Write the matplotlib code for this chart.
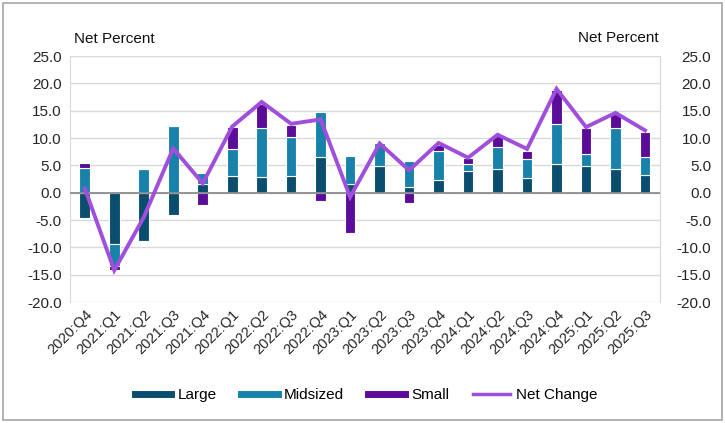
import numpy as np
import matplotlib
matplotlib.use("Agg")
import matplotlib.pyplot as plt
from matplotlib.lines import Line2D
from matplotlib.patches import Rectangle

plt.rcParams["font.family"] = ["Liberation Sans", "DejaVu Sans"]

# ---- data ----
quarters = ["2020:Q4", "2021:Q1", "2021:Q2", "2021:Q3", "2021:Q4",
            "2022:Q1", "2022:Q2", "2022:Q3", "2022:Q4", "2023:Q1",
            "2023:Q2", "2023:Q3", "2023:Q4", "2024:Q1", "2024:Q2",
            "2024:Q3", "2024:Q4", "2025:Q1", "2025:Q2", "2025:Q3"]
large    = [-4.6, -9.4, -8.8, -4.1, 1.5, 3.0, 2.8, 3.0, 6.5, 1.5,
            4.9, 1.1, 2.4, 4.0, 4.3, 2.7, 5.2, 4.8, 4.3, 3.3]
midsized = [4.6, -4.1, 4.3, 12.2, 2.1, 4.9, 9.1, 7.1, 8.2, 5.2,
            4.1, 4.7, 5.2, 1.3, 4.0, 3.4, 7.3, 2.3, 7.6, 3.3]
small    = [0.9, -0.6, 0.0, 0.0, -2.2, 4.1, 4.4, 2.3, -1.5, -7.4,
            0.0, -1.8, 1.2, 1.1, 2.1, 1.6, 6.2, 4.7, 2.5, 4.5]
net      = [0.8, -14.2, -4.5, 8.1, 1.7, 12.1, 16.6, 12.6, 13.4, -0.8,
            9.0, 4.1, 9.1, 6.4, 10.6, 8.0, 19.0, 12.0, 14.6, 11.4]

c_large, c_mid, c_small, c_net = "#0b4d6e", "#1882ab", "#5b0c98", "#a04fdc"

fig = plt.figure(figsize=(7.25, 4.23), dpi=100)
ax = fig.add_axes([0.0966, 0.286, 0.8134, 0.5816])
x = np.arange(len(quarters))

# stack Excel-style: positives up from 0, negatives down from 0
pos_b = np.zeros(len(x)); neg_b = np.zeros(len(x))
for vals, col in [(large, c_large), (midsized, c_mid), (small, c_small)]:
    v = np.array(vals)
    bottom = np.where(v >= 0, pos_b, neg_b)
    ax.bar(x, v, 0.36, bottom=bottom, color=col, edgecolor="white", linewidth=0.8, zorder=3)
    pos_b += np.where(v >= 0, v, 0); neg_b += np.where(v < 0, v, 0)

ax.plot(x, net, color=c_net, lw=2.8, zorder=4, solid_joinstyle="miter")
ax.axhline(0, color="#8c8c8c", lw=1.3, zorder=3.5)

ax.set_xlim(-0.5, len(x) - 0.5)
ax.set_ylim(-20, 25)
yt = np.arange(-20, 26, 5)
ax.set_yticks(yt)
ax.set_yticklabels([f"{v:.1f}" for v in yt], fontsize=11, color="#262626")
ax.grid(axis="y", color="#d9d9d9", lw=1.0, zorder=0)
ax.set_xticks(x)
ax.set_xticklabels(quarters, rotation=45, ha="right", va="top", rotation_mode="anchor",
                   fontsize=10.5, color="#262626")
ax.tick_params(length=0, pad=6)
ax.tick_params(axis="x", pad=4)
for s in ["top", "bottom"]:
    ax.spines[s].set_visible(False)
for s in ["left", "right"]:
    ax.spines[s].set_color("#d9d9d9")

ax2 = ax.twinx()
ax2.set_ylim(-20, 25)
ax2.set_yticks(yt)
ax2.set_yticklabels([f"{v:.1f}" for v in yt], fontsize=11, color="#262626", ha="right")
ax2.tick_params(length=0, pad=37)
for s in ax2.spines.values():
    s.set_visible(False)

fig.text(0.102, 0.907, "Net Percent", fontsize=11, va="center", ha="left", color="#111111")
fig.text(0.909, 0.909, "Net Percent", fontsize=11, va="center", ha="right", color="#111111")

handles = [Line2D([], [], color=c_large, lw=5),
           Line2D([], [], color=c_mid, lw=5),
           Line2D([], [], color=c_small, lw=5),
           Line2D([], [], color=c_net, lw=2.5)]
fig.legend(handles, ["Large", "Midsized", "Small", "Net Change"], loc="center",
           bbox_to_anchor=(0.505, 0.066), ncol=4, frameon=False, fontsize=11,
           handlelength=2.4, handletextpad=0.4, columnspacing=1.6)

fig.patches.append(Rectangle((0.004, 0.006), 0.992, 0.988, transform=fig.transFigure,
                             fill=False, edgecolor="#a6a6a6", lw=1.2))
fig.savefig("out.png", dpi=100)
